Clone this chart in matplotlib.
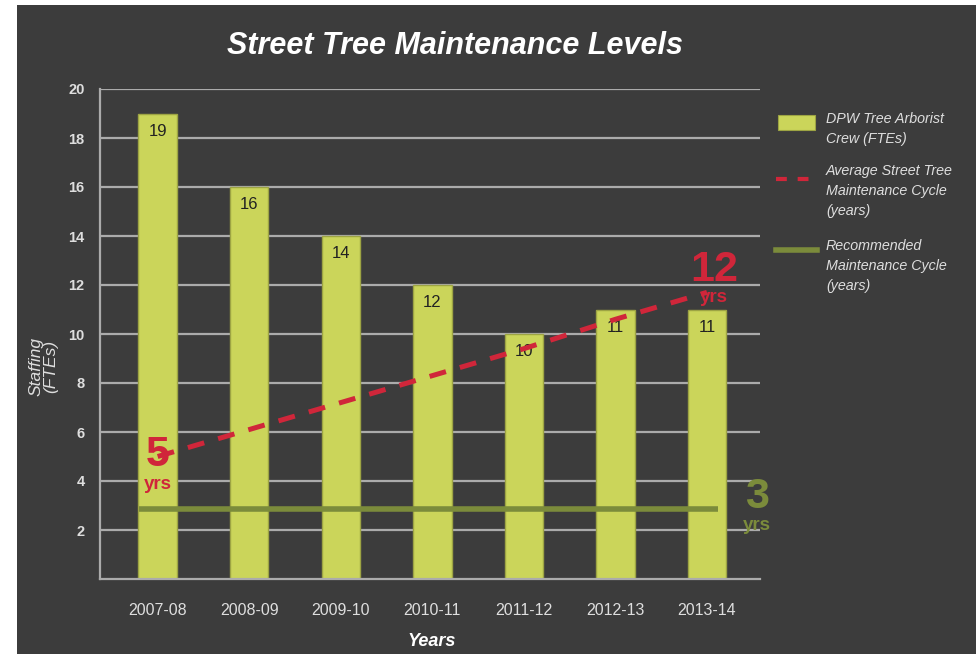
import matplotlib
matplotlib.use("Agg")
import matplotlib.pyplot as plt
from matplotlib.patches import Rectangle
from matplotlib.lines import Line2D

years = ["2007-08", "2008-09", "2009-10", "2010-11", "2011-12", "2012-13", "2013-14"]
staffing = [19, 16, 14, 12, 10, 11, 11]
avg_cycle = [5.0, 6.1, 7.2, 8.3, 9.4, 10.6, 11.7]
recommended_cycle = 2.85
y_ticks = [2, 4, 6, 8, 10, 12, 14, 16, 18, 20]

BG = "#3c3c3c"
BAR = "#cbd55a"
RED = "#d0263a"
OLIVE = "#7b8b3b"
LIGHT = "#dedede"
NARROW = ["Liberation Sans Narrow", "Liberation Sans", "DejaVu Sans"]
SANS = ["Liberation Sans", "DejaVu Sans"]


def main():
    fig = plt.figure(figsize=(9.76, 6.54), dpi=100, facecolor="white")
    fig.add_artist(Rectangle((17 / 976, 0), 1 - 17 / 976, 1 - 5 / 654,
                             transform=fig.transFigure, facecolor=BG,
                             edgecolor="none", zorder=0))

    ax = fig.add_axes([100 / 976, 1 - 579 / 654, 660 / 976, 490 / 654])
    ax.set_facecolor("none")
    x = list(range(len(years)))

    # gridlines
    for t in y_ticks:
        ax.axhline(t, color="#ababab", lw=1.6, zorder=1)

    bars = ax.bar(x, staffing, width=0.42, color=BAR, edgecolor="#9da443",
                  linewidth=1.0, zorder=2)
    for b, v in zip(bars, staffing):
        ax.text(b.get_x() + b.get_width() / 2, v - 0.72, str(v), ha="center",
                va="center", fontsize=12, color="#222222", family=NARROW,
                zorder=3)

    ax.plot(x, avg_cycle, color=RED, lw=3.6, dashes=(3.4, 2.9), zorder=4)
    ax.hlines(recommended_cycle, -0.2, 6.12, color=OLIVE, lw=4, zorder=4)

    # value callouts
    ax.text(0, 5.05, "5", ha="center", va="center", fontsize=31,
            fontweight="bold", color=RED, family=SANS, zorder=5)
    ax.text(0, 3.85, "yrs", ha="center", va="center", fontsize=13.5,
            fontweight="bold", color=RED, family=SANS, zorder=5)
    ax.text(6.08, 12.6, "12", ha="center", va="center", fontsize=31,
            fontweight="bold", color=RED, family=SANS, zorder=5)
    ax.text(6.08, 11.5, "yrs", ha="center", va="center", fontsize=13.5,
            fontweight="bold", color=RED, family=SANS, zorder=5)
    ax.text(6.55, 3.35, "3", ha="center", va="center", fontsize=31,
            fontweight="bold", color=OLIVE, family=SANS, zorder=5,
            clip_on=False)
    ax.text(6.55, 2.2, "yrs", ha="center", va="center", fontsize=13.5,
            fontweight="bold", color=OLIVE, family=SANS, zorder=5,
            clip_on=False)

    ax.set_xlim(-0.63, 6.58)
    ax.set_ylim(0, 20)
    ax.set_xticks(x)
    ax.set_xticklabels(years, family=NARROW, fontsize=11.5, color=LIGHT)
    ax.set_yticks(y_ticks)
    ax.set_yticklabels([str(t) for t in y_ticks], family=SANS, fontsize=10.5,
                       fontweight="bold", color=LIGHT)
    ax.tick_params(axis="both", length=0)
    ax.tick_params(axis="x", pad=17)
    ax.tick_params(axis="y", pad=11)
    for s in ["top", "right"]:
        ax.spines[s].set_visible(False)
    for s in ["left", "bottom"]:
        ax.spines[s].set_color("#ababab")
        ax.spines[s].set_linewidth(1.6)

    fig.text(0.466, 1 - 46 / 654, "Street Tree Maintenance Levels",
             ha="center", va="center", fontsize=22, fontweight="bold",
             style="italic", color="white", family=NARROW)
    fig.text(432 / 976, 1 - 641 / 654, "Years", ha="center", va="center",
             fontsize=13, fontweight="bold", style="italic", color="white",
             family=NARROW)
    fig.text(43 / 976, 1 - 366 / 654, "Staffing\n(FTEs)", ha="center",
             va="center", rotation=90, fontsize=12.5, style="italic",
             color=LIGHT, family=NARROW, linespacing=1.0)

    # legend
    fig.add_artist(Rectangle((778 / 976, 1 - 130 / 654), 37 / 976, 15 / 654,
                             transform=fig.transFigure, facecolor=BAR,
                             edgecolor="#9da443", lw=0.8))
    fig.add_artist(Line2D([776 / 976, 817 / 976], [1 - 179 / 654] * 2,
                          transform=fig.transFigure, color=RED, lw=3,
                          dashes=(2.6, 2.6)))
    fig.add_artist(Line2D([776 / 976, 817 / 976], [1 - 250 / 654] * 2,
                          transform=fig.transFigure, color=OLIVE, lw=4))
    legend_text = [
        (112, "DPW Tree Arborist\nCrew (FTEs)"),
        (164, "Average Street Tree\nMaintenance Cycle\n(years)"),
        (239, "Recommended\nMaintenance Cycle\n(years)"),
    ]
    for ytop, label in legend_text:
        fig.text(826 / 976, 1 - ytop / 654, label, ha="left", va="top",
                 fontsize=10.3, style="italic", color=LIGHT, family=NARROW,
                 linespacing=1.55)

    fig.savefig("out.png", dpi=100, facecolor=fig.get_facecolor())


if __name__ == "__main__":
    main()
